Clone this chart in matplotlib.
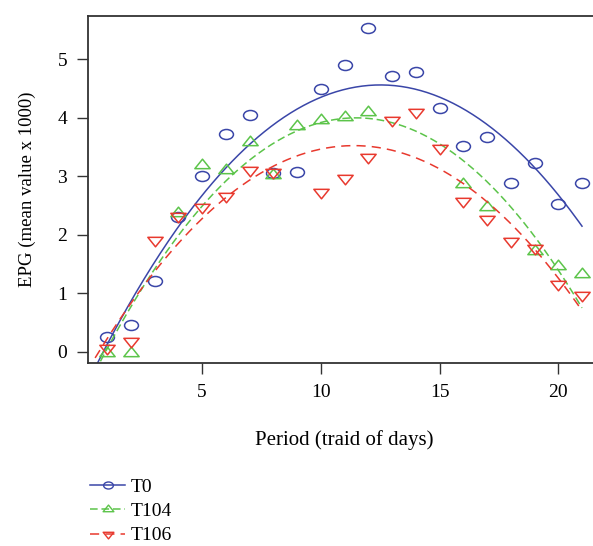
import numpy as np
import matplotlib
matplotlib.use("Agg")
import matplotlib.pyplot as plt
from matplotlib.path import Path
from matplotlib.transforms import Affine2D
from matplotlib.lines import Line2D

# ---- data ----
period = np.arange(1, 22)
t0 = [0.25, 0.46, 1.21, 2.30, 3.00, 3.73, 4.05, 3.05, 3.07, 4.50, 4.90,
      5.53, 4.71, 4.78, 4.17, 3.51, 3.67, 2.88, 3.23, 2.52, 2.88]
t104 = [-0.02, -0.02, np.nan, 2.37, 3.20, 3.10, 3.58, 3.02, 3.86, 3.97, 4.01,
        4.10, np.nan, np.nan, np.nan, 2.87, 2.47, np.nan, 1.73, 1.46, 1.33]
t106 = [0.06, 0.18, 1.91, 2.32, 2.48, 2.67, 3.11, 3.07, np.nan, 2.74, 2.97,
        3.33, 3.96, 4.10, 3.48, 2.58, 2.27, 1.90, 1.78, 1.16, 0.97]
labels = ["T0", "T104", "T106"]
xticks = [5, 10, 15, 20]
yticks = [0, 1, 2, 3, 4, 5]

colors = ["#3a46a8", "#5cc44a", "#e8392e"]
dashes = [None, (5, 2.5), (6, 4)]

# squashed markers (reference is slightly stretched horizontally)
sq = Affine2D().scale(1.0, 0.72)
circ = sq.transform_path(Path.unit_circle())
tri_up = sq.transform_path(Path([(0, 1), (-0.87, -0.5), (0.87, -0.5), (0, 1)],
                                [1, 2, 2, 79]))
tri_dn = sq.transform_path(Path([(0, -1), (-0.87, 0.5), (0.87, 0.5), (0, -1)],
                                [1, 2, 2, 79]))
markers = [circ, tri_up, tri_dn]
msizes = [10, 11, 11]

plt.rcParams['font.family'] = ['Liberation Serif', 'DejaVu Serif']

W, H = 593, 546
fig = plt.figure(figsize=(W / 100, H / 100), dpi=100)
L, R, T, B = 88, 601, 16, 363
ax = fig.add_axes([L / W, 1 - B / H, (R - L) / W, (B - T) / H])

series = [t0, t104, t106]
handles = []
for y, c, d, m, ms, lab in zip(series, colors, dashes, markers, msizes, labels):
    y = np.asarray(y, dtype=float)
    ok = ~np.isnan(y)
    coef = np.polyfit(period[ok], y[ok], 2)
    xs = np.linspace(0.5, period.max(), 300)
    ys = np.polyval(coef, xs)
    ln, = ax.plot(xs, ys, color=c, lw=1.1)
    if d is not None:
        ln.set_dashes(d)
    ax.plot(period, y, linestyle='none', marker=m, markersize=ms,
            markerfacecolor='none', markeredgecolor=c, markeredgewidth=1.1)
    h = Line2D([], [], color=c, lw=1.1, marker=m, markersize=ms * 0.7,
               markerfacecolor='none', markeredgecolor=c, markeredgewidth=1.0)
    if d is not None:
        h.set_dashes(d)
    handles.append(h)

ax.set_xlim(0.2, 21.8)
ax.set_ylim(-0.19, 5.74)
ax.set_xticks(xticks)
ax.set_yticks(yticks)
ax.tick_params(direction='out', length=8, width=1.0, labelsize=14, pad=7,
               color='#333333')
ax.tick_params(axis='y', pad=7)
for s in ax.spines.values():
    s.set_linewidth(1.3)
    s.set_color('#333333')

ax.set_xlabel("Period (traid of days)", fontsize=15, labelpad=21)
ax.set_ylabel("EPG (mean value x 1000)", fontsize=13.5, labelpad=15)

fig.legend(handles, labels, loc='upper left',
           bbox_to_anchor=(90 / W, 1 - 478 / H), frameon=False,
           fontsize=14, handlelength=1.8, handletextpad=0.3,
           labelspacing=0.35, borderpad=0, borderaxespad=0)

fig.savefig("out.png", dpi=100)
